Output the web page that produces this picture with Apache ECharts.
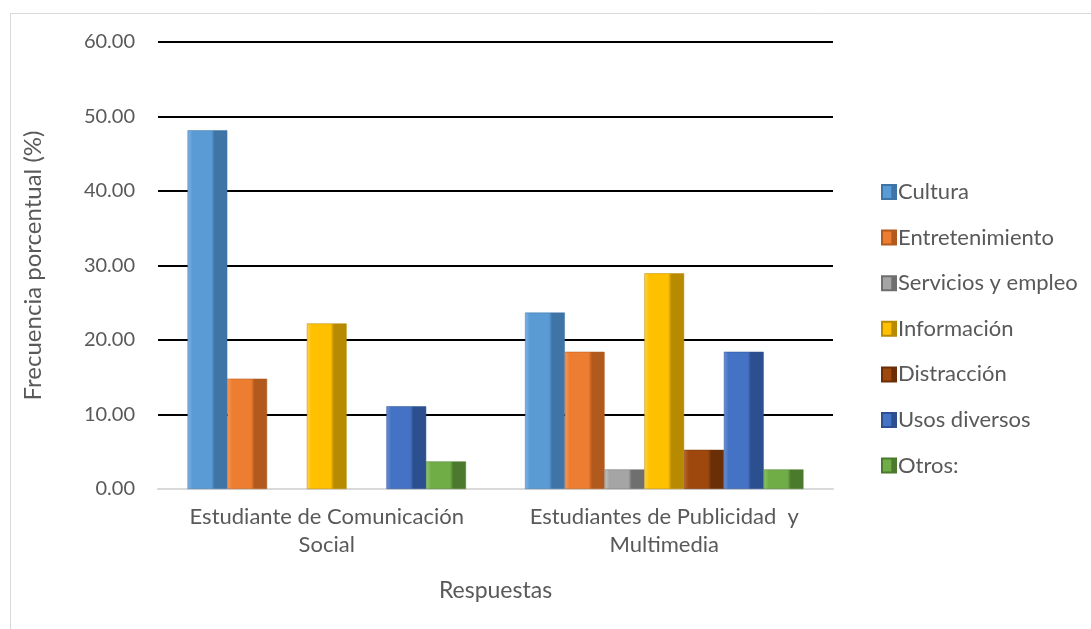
<!DOCTYPE html>
<html><head><meta charset="utf-8">
<script src="https://cdn.jsdelivr.net/npm/echarts@6/dist/echarts.min.js"></script>
<style>html,body{margin:0;padding:0;background:#fff}#c{width:1091px;height:629px}</style>
</head><body><div id="c"></div>
<script>
const categories = ['Estudiante de Comunicación\nSocial', 'Estudiantes de Publicidad  y\nMultimedia'];
const seriesNames = ['Cultura','Entretenimiento','Servicios y empleo','Información','Distracción','Usos diversos','Otros:'];
const cultura = [48.15, 23.68];
const entretenimiento = [14.81, 18.42];
const servicios = [0, 2.63];
const informacion = [22.22, 28.95];
const distraccion = [0, 5.26];
const usos = [11.11, 18.42];
const otros = [3.70, 2.63];
const yTicks = [0, 10, 20, 30, 40, 50, 60];

const values = [cultura, entretenimiento, servicios, informacion, distraccion, usos, otros];
const colors = [
  ['#7fb4e6','#5b9bd5','#3e74a6'],
  ['#f79a5c','#ed7d31','#b25a1d'],
  ['#c4c4c4','#a5a5a5','#6f6f6f'],
  ['#ffd24d','#ffc000','#b88a00'],
  ['#c2641f','#9e480e','#6b2f08'],
  ['#6a90d8','#4472c4','#2c4f8f'],
  ['#90c86c','#70ad47','#4b7a2d']
];
function grad(c){
  return new echarts.graphic.LinearGradient(0,0,1,0,[
    {offset:0,color:c[0]},{offset:0.12,color:c[1]},{offset:0.6,color:c[1]},
    {offset:0.68,color:c[2]},{offset:1,color:c[2]}
  ]);
}
const font = 'Lato, "Open Sans", sans-serif';
const chart = echarts.init(document.getElementById('c'));
chart.setOption({
  backgroundColor:'#fff',
  animation:false,
  textStyle:{fontFamily:font},
  graphic:[{type:'rect',shape:{x:10.5,y:13.5,width:1100,height:700},style:{fill:'none',stroke:'#d9d9d9',lineWidth:1},z:-1}],
  grid:{left:158,right:258,top:42,bottom:140},
  legend:{
    orient:'vertical', left:876, top:176, itemWidth:14, itemHeight:14, itemGap:23.6,
    icon:'rect',
    textStyle:{fontSize:22,color:'#595959',fontFamily:font,lineHeight:22,padding:[0,0,0,-3]},
    data:seriesNames
  },
  xAxis:{
    type:'category', data:categories,
    name:'Respuestas', nameLocation:'middle', nameGap:90,
    nameTextStyle:{fontSize:23,color:'#595959',fontFamily:font},
    axisLine:{lineStyle:{color:'#d9d9d9',width:2}},
    axisTick:{show:false},
    axisLabel:{interval:0,hideOverlap:false,fontSize:22,color:'#595959',lineHeight:28,margin:14,fontFamily:font}
  },
  yAxis:{
    type:'value', min:0, max:60, interval:10,
    name:'Frecuencia porcentual (%)', nameLocation:'middle', nameGap:113,
    nameTextStyle:{fontSize:24,color:'#595959',fontFamily:font},
    axisLine:{show:false}, axisTick:{show:false},
    axisLabel:{fontSize:20,color:'#595959',margin:23,fontFamily:font,formatter:v=>yTicks.includes(v)?v.toFixed(2):''},
    splitLine:{lineStyle:{color:'#000',width:2}}
  },
  series: seriesNames.map((n,i)=>({
    name:n, type:'bar', data:values[i].map(v=>v===0?null:v),
    barGap:'0%', barCategoryGap:'17.5%',
    itemStyle:{color:grad(colors[i]),borderColor:colors[i][2],borderWidth:0.5}
  }))
});
</script></body></html>
